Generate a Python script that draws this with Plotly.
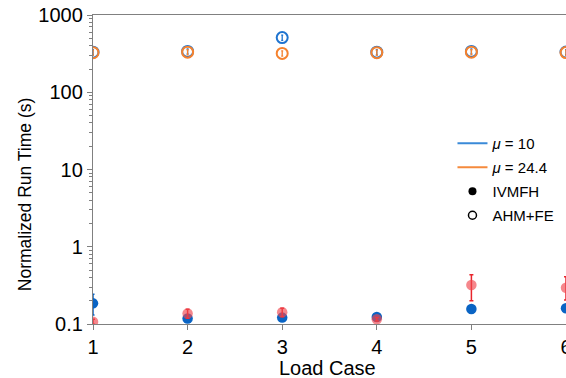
import plotly.graph_objects as go

load_case = [1, 2, 3, 4, 5, 6]

# AHM+FE (open markers)
ahm_mu10 = [330, 338, 510, 330, 338, 332]
ahm_mu10_err = [25, 25, 40, 25, 25, 25]
ahm_mu24 = [325, 330, 318, 325, 330, 326]
ahm_mu24_err = [25, 25, 25, 25, 25, 25]

# IVMFH (filled markers)
iv_mu10 = [0.185, 0.118, 0.121, 0.123, 0.156, 0.160]
iv_mu10_up = [0.057, 0.006, 0.006, 0.006, 0.006, 0.006]
iv_mu10_dn = [0.054, 0.006, 0.006, 0.006, 0.006, 0.006]
iv_mu24 = [0.107, 0.137, 0.142, 0.115, 0.320, 0.295]
iv_mu24_up = [0.008, 0.018, 0.018, 0.006, 0.115, 0.115]
iv_mu24_dn = [0.008, 0.018, 0.018, 0.006, 0.120, 0.090]

xticks = [1, 2, 3, 4, 5, 6]
yticks = [0.1, 1, 10, 100, 1000]
ytick_labels = ["0.1", "1", "10", "100", "1000"]

BLUE = "#1f74d0"
ORANGE = "#f5822e"
BLUE_F = "#0a64c4"
RED_F = "rgba(240,70,78,0.65)"
RED_E = "#e8252c"
FONT = "Arial, Liberation Sans, sans-serif"

fig = go.Figure()

fig.add_trace(go.Scatter(
    x=load_case, y=ahm_mu10, mode="markers", showlegend=False,
    marker=dict(symbol="circle-open", size=11, color=BLUE, line=dict(width=2)),
    error_y=dict(type="data", array=ahm_mu10_err, color=BLUE, thickness=1.3, width=1)))
fig.add_trace(go.Scatter(
    x=load_case, y=ahm_mu24, mode="markers", showlegend=False,
    marker=dict(symbol="circle-open", size=11, color=ORANGE, line=dict(width=2)),
    error_y=dict(type="data", array=ahm_mu24_err, color=ORANGE, thickness=1.3, width=1)))
fig.add_trace(go.Scatter(
    x=load_case, y=iv_mu10, mode="markers", showlegend=False,
    marker=dict(symbol="circle", size=10.5, color=BLUE_F),
    error_y=dict(type="data", array=iv_mu10_up, arrayminus=iv_mu10_dn, color=BLUE_F, thickness=1.5, width=1.5)))
fig.add_trace(go.Scatter(
    x=load_case, y=iv_mu24, mode="markers", showlegend=False,
    marker=dict(symbol="circle", size=10.5, color=RED_F),
    error_y=dict(type="data", array=iv_mu24_up, arrayminus=iv_mu24_dn, color=RED_E, thickness=1.5, width=2)))

# legend entries
fig.add_trace(go.Scatter(x=[None], y=[None], mode="lines", name="<i>μ</i> = 10", legendgroup="a",
                         line=dict(color="#3a8ad8", width=2)))
fig.add_trace(go.Scatter(x=[None], y=[None], mode="lines", name="<i>μ</i> = 24.4", legendgroup="b",
                         line=dict(color="#f58a3c", width=2)))
fig.add_trace(go.Scatter(x=[None], y=[None], mode="markers", name="IVMFH", legendgroup="c",
                         marker=dict(symbol="circle", size=8, color="black")))
fig.add_trace(go.Scatter(x=[None], y=[None], mode="markers", name="AHM+FE", legendgroup="d",
                         marker=dict(symbol="circle-open", size=8, color="black", line=dict(width=1.5))))

fig.update_layout(
    width=566, height=378,
    margin=dict(l=93, r=0, t=15, b=54),
    paper_bgcolor="white", plot_bgcolor="white",
    font=dict(family=FONT, size=16, color="black"),
    legend=dict(x=0.76, y=0.6375, xanchor="left", yanchor="top",
                font=dict(size=15, family=FONT), bgcolor="rgba(0,0,0,0)",
                itemwidth=30, tracegroupgap=1.5),
    annotations=[
        dict(text="Normalized Run Time (s)", xref="paper", yref="paper",
             x=-0.1438, y=0.42, xanchor="center", yanchor="middle",
             textangle=-90, showarrow=False, font=dict(size=17.5, family=FONT)),
        dict(text="Load Case", xref="paper", yref="paper",
             x=0.4958, y=-0.141, xanchor="center", yanchor="middle",
             showarrow=False, font=dict(size=20, family=FONT)),
    ],
)
fig.update_xaxes(
    range=[1, 6], tickvals=xticks, showgrid=False, zeroline=False,
    showline=True, linecolor="#808080", linewidth=1.3, mirror=True,
    ticks="outside", ticklen=5, tickcolor="#808080",
    ticklabeloverflow="allow", automargin=False,
    tickfont=dict(size=20))
fig.update_yaxes(
    type="log", range=[-1, 3], tickvals=yticks, ticktext=ytick_labels,
    showgrid=False, zeroline=False, showline=True, linecolor="#808080", linewidth=1.3,
    ticks="outside", ticklen=5, tickcolor="#808080", automargin=False,
    minor=dict(dtick="D1", ticks="outside", ticklen=3, tickcolor="#808080", showgrid=False),
    tickfont=dict(size=20))

fig.write_html("out.html")
